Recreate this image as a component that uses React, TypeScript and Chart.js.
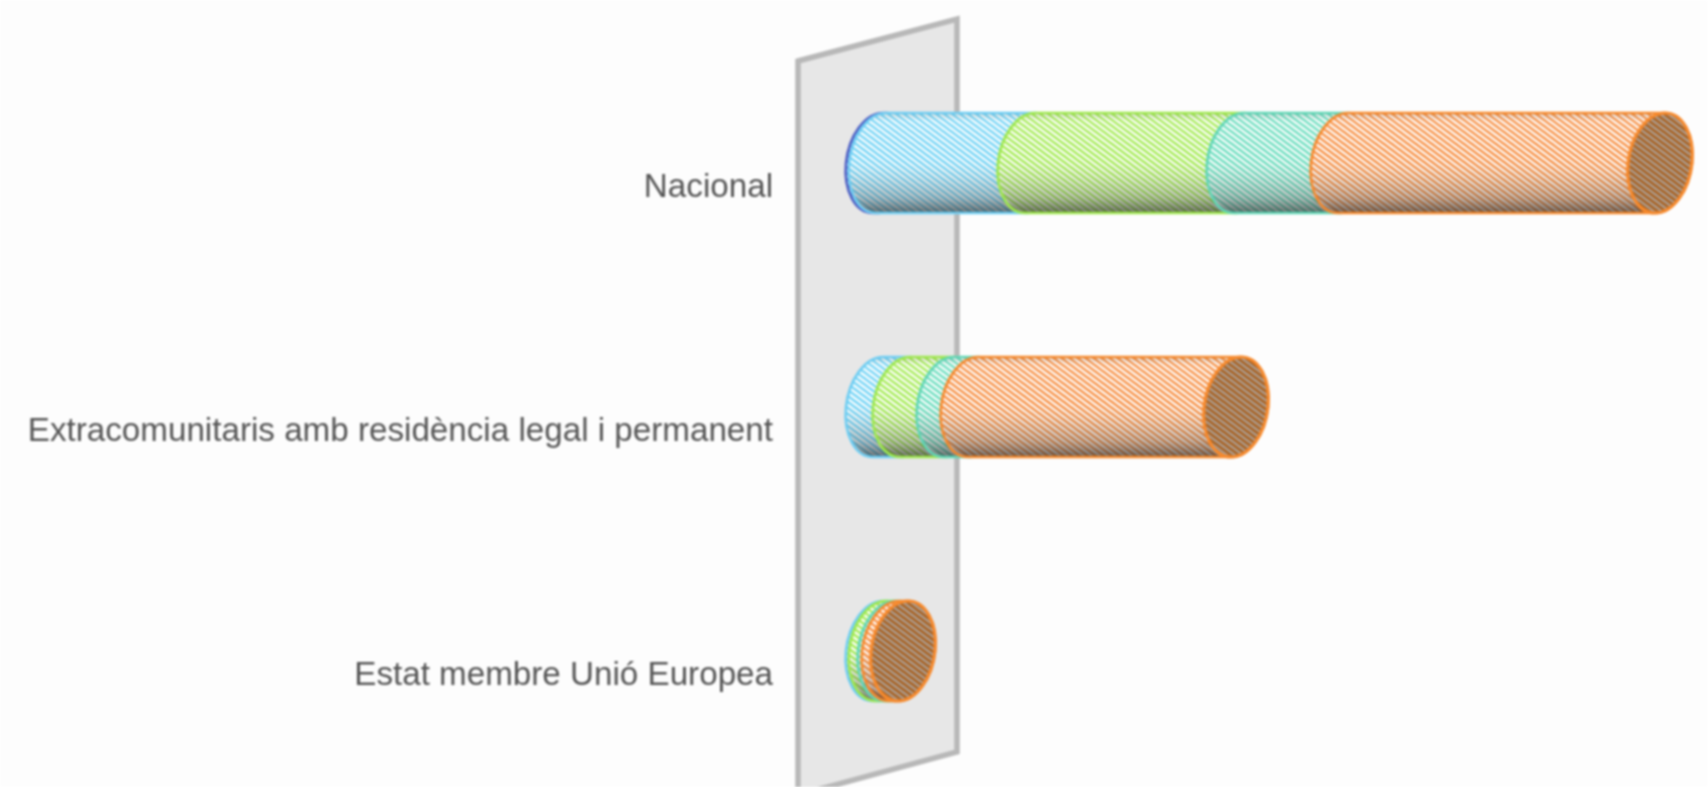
import React, { useEffect, useRef } from "react";
import { Chart, registerables } from "chart.js";

Chart.register(...registerables);

const categories = ["Nacional", "Extracomunitaris amb residència legal i permanent", "Estat membre Unió Europea"];
const seriesNames = ["Sèrie 1", "Sèrie 2", "Sèrie 3", "Sèrie 4", "Sèrie 5"];
const series1 = [3, 0, 0];
const series2 = [149, 27, 3];
const series3 = [209, 44, 9];
const series4 = [104, 24, 4];
const series5 = [317, 263, 9];

const allSeries = [series1, series2, series3, series4, series5];
const strokes = ["#4f60c4", "#6fcdf2", "#9fe84f", "#62d6b6", "#f68a2e"];
const stripes = ["#4f60c4", "#6ed2f5", "#a2ea50", "#66dcbc", "#f68c3e"];
const capTints = ["#8a93b0", "#8aa6b0", "#a0ad80", "#8ab0a4", "#ada096"];
const capStripes = ["#4f60c4", "#58aacb", "#86c043", "#4fb096", "#a8601f"];

function hatch(ctx: CanvasRenderingContext2D, bg: string, fg: string) {
  const w = 8;
  const h = 6;
  const c = document.createElement("canvas");
  c.width = w;
  c.height = h;
  const x = c.getContext("2d")!;
  x.fillStyle = bg;
  x.fillRect(0, 0, w, h);
  x.strokeStyle = fg;
  x.lineWidth = 2.6;
  for (const dy of [-h, 0, h]) {
    x.beginPath();
    x.moveTo(-w, dy - h);
    x.lineTo(2 * w, dy + 2 * h);
    x.stroke();
  }
  return ctx.createPattern(c, "repeat")!;
}

const SKEW = 5;

function endOutline(ctx: CanvasRenderingContext2D, cx: number, cy: number, sx: number, ry: number, from: number, to: number, ccw: boolean) {
  ctx.save();
  ctx.transform(sx, 0, -SKEW, ry, cx, cy);
  ctx.arc(0, 0, 1, from, to, ccw);
  ctx.restore();
}

const cylinders = {
  id: "cylinders",
  beforeDatasetsDraw(chart: any) {
    const { ctx, chartArea: a } = chart;
    const l = a.left;
    ctx.save();
    ctx.beginPath();
    ctx.moveTo(l - 80, a.top + 20);
    ctx.lineTo(l + 79, a.top - 22);
    ctx.lineTo(l + 79, a.top + 711);
    ctx.lineTo(l - 80, a.top + 754);
    ctx.closePath();
    ctx.fillStyle = "#e7e7e7";
    ctx.fill();
    ctx.strokeStyle = "#b8b8b8";
    ctx.lineWidth = 5.5;
    ctx.stroke();
    ctx.restore();
  },
  afterDatasetsDraw(chart: any) {
    const { ctx } = chart;
    const nDs = chart.data.datasets.length;
    const sx = 32;
    categories.forEach((_, i) => {
      let lastIdx = -1;
      for (let d = 0; d < nDs; d++) if (chart.data.datasets[d].data[i] > 0) lastIdx = d;
      for (let d = 0; d < nDs; d++) {
        if (!(chart.data.datasets[d].data[i] > 0)) continue;
        const el = chart.getDatasetMeta(d).data[i];
        const x0 = el.base;
        const x1 = el.x;
        const cy = el.y;
        const ry = el.height / 2;
        const top = cy - ry;
        const bot = cy + ry;

        const path = () => {
          ctx.beginPath();
          endOutline(ctx, x0, cy, sx, ry, -Math.PI / 2, Math.PI / 2, true);
          endOutline(ctx, x1, cy, sx, ry, Math.PI / 2, -Math.PI / 2, true);
          ctx.closePath();
        };

        path();
        ctx.fillStyle = hatch(ctx, "#ffffff", stripes[d]);
        ctx.fill();

        const g = ctx.createLinearGradient(0, top, 0, bot);
        g.addColorStop(0, "rgba(70,70,70,0.2)");
        g.addColorStop(0.08, "rgba(255,255,255,0.1)");
        g.addColorStop(0.45, "rgba(255,255,255,0.03)");
        g.addColorStop(0.65, "rgba(120,120,120,0.14)");
        g.addColorStop(0.85, "rgba(70,70,70,0.34)");
        g.addColorStop(1, "rgba(40,40,40,0.66)");
        path();
        ctx.fillStyle = g;
        ctx.fill();

        path();
        ctx.strokeStyle = strokes[d];
        ctx.lineWidth = 2.6;
        ctx.stroke();

        if (d === lastIdx) {
          ctx.beginPath();
          endOutline(ctx, x1, cy, sx, ry, 0, Math.PI * 2, false);
          ctx.closePath();
          ctx.fillStyle = hatch(ctx, capTints[d], capStripes[d]);
          ctx.fill();
          ctx.strokeStyle = strokes[d];
          ctx.lineWidth = 3.2;
          ctx.stroke();
        }
      }
    });
  },
};

export default function App() {
  const ref = useRef<HTMLCanvasElement>(null);
  useEffect(() => {
    document.body.style.margin = "0";
    document.body.style.overflow = "hidden";
    const chart = new Chart(ref.current!, {
      type: "bar",
      plugins: [cylinders],
      data: {
        labels: categories,
        datasets: allSeries.map((values, i) => ({
          label: seriesNames[i],
          data: values,
          backgroundColor: "transparent",
          borderWidth: 0,
        })),
      },
      options: {
        indexAxis: "y",
        animation: false,
        responsive: false,
        layout: { padding: { top: 41, bottom: 14, right: 8, left: 0 } },
        plugins: { legend: { display: false }, tooltip: { enabled: false } },
        scales: {
          x: { stacked: true, display: false, min: 0, max: 822 },
          y: {
            stacked: true,
            border: { display: false },
            grid: { display: true, drawOnChartArea: false, drawTicks: true, tickColor: "transparent", tickLength: 105 },
            afterFit: (s: any) => {
              s.width = 878;
              s.paddingTop = 0;
              s.paddingBottom = 0;
            },
            ticks: {
              color: "#555555",
              padding: 0,
              labelOffset: 25,
              autoSkip: false,
              font: { family: "'Liberation Sans', Arial, sans-serif", size: 33.2 },
            },
          },
        },
        datasets: { bar: { barPercentage: 0.41, categoryPercentage: 1 } },
      } as any,
    });
    return () => chart.destroy();
  }, []);
  return (
    <canvas
      ref={ref}
      width={1708}
      height={787}
      style={{ display: "block", width: 1708, height: 787, background: "#fdfdfd", filter: "blur(0.8px)" }}
    />
  );
}
